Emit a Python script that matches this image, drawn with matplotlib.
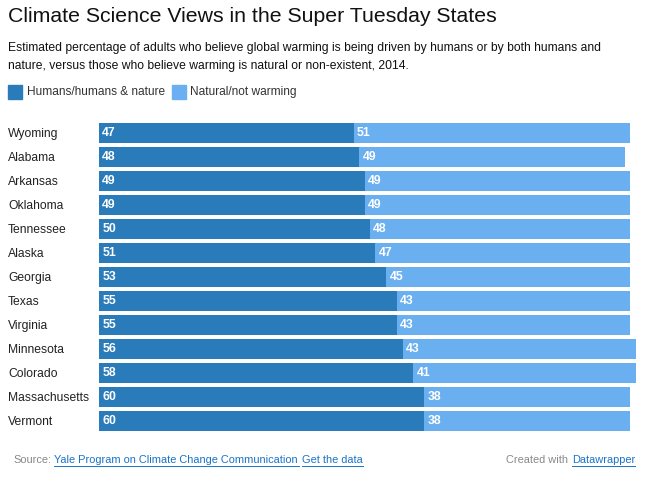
import numpy as np
import matplotlib.pyplot as plt
import matplotlib.patches as mpatches

plt.rcParams['font.family'] = ['Liberation Sans', 'DejaVu Sans']

states = ['Wyoming', 'Alabama', 'Arkansas', 'Oklahoma', 'Tennessee', 'Alaska',
          'Georgia', 'Texas', 'Virginia', 'Minnesota', 'Colorado',
          'Massachusetts', 'Vermont']
humans = [47, 48, 49, 49, 50, 51, 53, 55, 55, 56, 58, 60, 60]
natural = [51, 49, 49, 49, 48, 47, 45, 43, 43, 43, 41, 38, 38]

dark = '#2a7bba'
light = '#6aaff0'
link = '#1a73c7'

W, H = 651, 490
fig = plt.figure(figsize=(W / 100, H / 100), dpi=100)

# axes: x from px 99, 5.42 px per unit; rows 24 px apart starting at y=121
px_unit = 5.42
ax = fig.add_axes([99 / W, 1 - 433 / H, 100 * px_unit / W, 312 / H])
y = np.arange(len(states))
ax.barh(y, humans, height=20 / 24, color=dark)
ax.barh(y, natural, left=humans, height=20 / 24, color=light)
ax.set_xlim(0, 100)
ax.set_ylim(len(states) - 0.5, -0.5)
ax.axis('off')

for i in range(len(states)):
    ax.text(0.6, i, str(humans[i]), color='white', fontsize=8.8, fontweight='bold',
            va='center', ha='left')
    ax.text(humans[i] + 0.6, i, str(natural[i]), color='white', fontsize=8.8,
            fontweight='bold', va='center', ha='left')
    fig.text(8 / W, 1 - (134 + 24 * i) / H, states[i], fontsize=8.7, color='#222222',
             va='center', ha='left')

fig.text(8 / W, 1 - 17 / H, 'Climate Science Views in the Super Tuesday States',
         fontsize=15.3, color='#111111', va='center', ha='left')
fig.text(8 / W, 1 - 48 / H,
         'Estimated percentage of adults who believe global warming is being driven by humans or by both humans and',
         fontsize=8.7, color='#111111', va='center', ha='left')
fig.text(8 / W, 1 - 66 / H,
         'nature, versus those who believe warming is natural or non-existent, 2014.',
         fontsize=8.7, color='#111111', va='center', ha='left')

# legend
fig.patches.append(mpatches.Rectangle((8 / W, 1 - 99 / H), 14 / W, 14 / H,
                                      color=dark, transform=fig.transFigure))
fig.text(27 / W, 1 - 92 / H, 'Humans/humans & nature', fontsize=8.6, color='#333333',
         va='center', ha='left')
fig.patches.append(mpatches.Rectangle((172 / W, 1 - 99 / H), 14 / W, 14 / H,
                                      color=light, transform=fig.transFigure))
fig.text(190 / W, 1 - 92 / H, 'Natural/not warming', fontsize=8.6, color='#333333',
         va='center', ha='left')

# footer
fy = 1 - 460 / H
fig.text(13 / W, fy, 'Source:', fontsize=7.9, color='#888888', va='center', ha='left')
fig.text(54 / W, fy, 'Yale Program on Climate Change Communication', fontsize=7.9,
         color=link, va='center', ha='left')
fig.text(302 / W, fy, 'Get the data', fontsize=7.9, color=link, va='center', ha='left')
fig.text(506 / W, fy, 'Created with', fontsize=7.9, color='#888888',
         va='center', ha='left')
fig.text(572 / W, fy, 'Datawrapper', fontsize=7.9, color=link, va='center', ha='left')
# underlines
for x0, x1 in [(54, 299), (302, 363), (572, 635)]:
    fig.add_artist(plt.Line2D([x0 / W, x1 / W], [1 - 466 / H, 1 - 466 / H],
                              color=link, linewidth=0.7))

fig.savefig('out.png', dpi=100)
